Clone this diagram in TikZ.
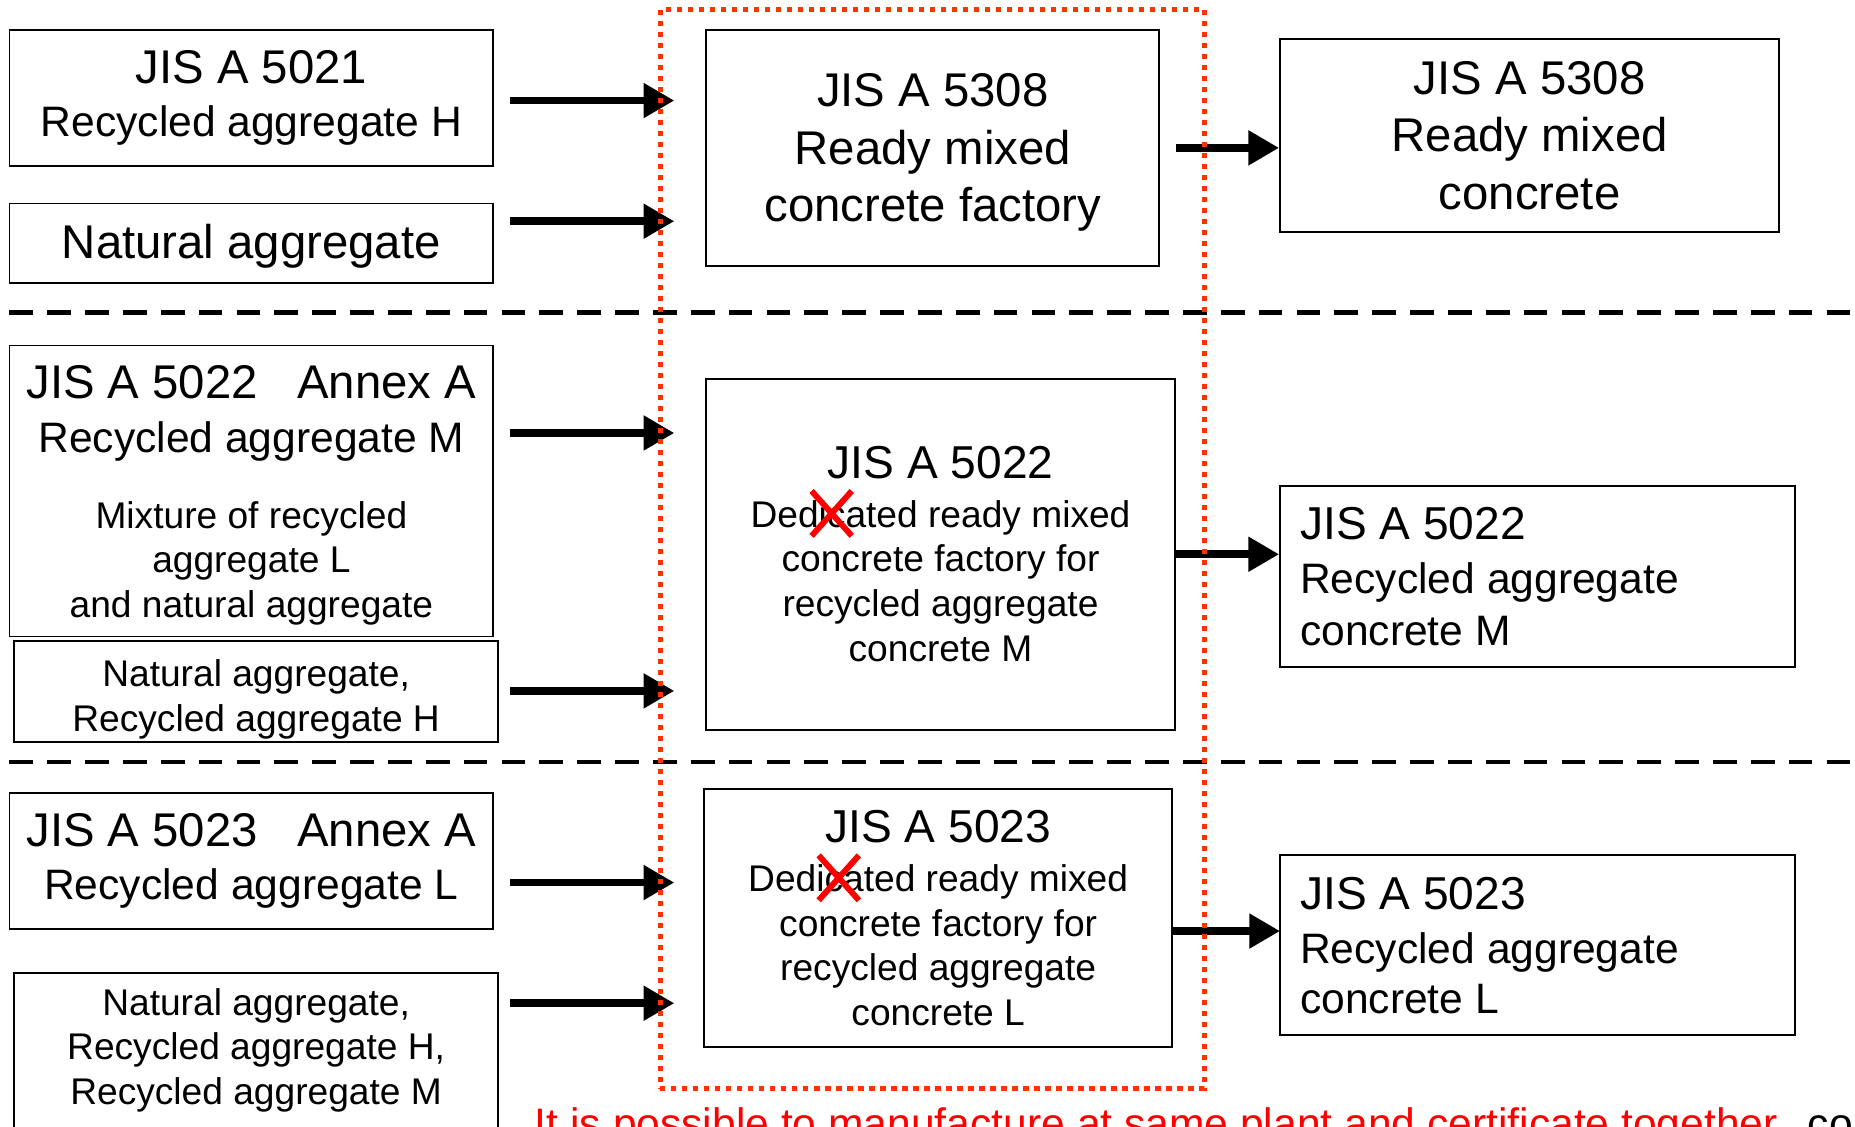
\documentclass[tikz,border=0pt]{standalone}
\usepackage{fontspec}
\setmainfont{Liberation Sans}
\usepackage{xcolor}
\usetikzlibrary{positioning}
\usetikzlibrary{arrows.meta}

\definecolor{plantred}{RGB}{255,51,0}
\newcommand{\fbig}{\fontsize{40}{48}\selectfont}
\newcommand{\fmid}{\fontsize{36}{45}\selectfont}
\newcommand{\fsml}{\fontsize{31.4}{38}\selectfont}

\begin{document}
\begin{tikzpicture}[
  x=1pt, y=-1pt,
  box/.style={draw, line width=1.6pt, inner sep=0pt, align=center},
  boxtext/.style={inner sep=0pt, align=center},
  feed/.style={-{Triangle[length=26pt,width=28pt]}, line width=6.5pt},
  redx/.style={red, line width=5pt},
  split/.style={line width=4pt, dash pattern=on 20pt off 12pt},
  plantframe/.style={draw=plantred, line width=4pt, dash pattern=on 4.5pt off 4.8pt}
]
\useasboundingbox (0,0) rectangle (1568,952);
\fill[white] (0,0) rectangle (1568,952);
\clip (0,0) rectangle (1568,952);

% section borders
\draw[split] (8,264) -- (1580,264);
\draw[split] (8,644) -- (1580,644);

% aggregates
\node[box, font=\fontsize{36}{45}\selectfont, minimum width=409pt, minimum height=115pt] (a5021) at (212.5,82.5) {\fbig JIS A 5021\\\fmid Recycled aggregate H};
\node[box, minimum width=409pt, minimum height=67pt] (nat1) at (212.5,205.5) {};
\node[boxtext, font=\fbig] (nat1txt) at ([yshift=-3pt]nat1.center) {Natural aggregate};
\node[box, minimum width=409pt, minimum height=246pt] (a5022a) at (212.5,415) {};
\node[boxtext, font=\fontsize{31.4}{37.5}\selectfont] (a5022atxt) at ([yshift=-3.5pt]a5022a.center) {\fbig JIS A 5022\ \ \ Annex A\\[8.5pt]\fmid Recycled aggregate M\\[26.5pt]\fsml Mixture of recycled\\\fsml aggregate L\\\fsml and natural aggregate};
\node[box, minimum width=409pt, minimum height=85pt] (nat2) at (216.5,584.5) {};
\node[boxtext, font=\fsml] (nat2txt) at ([yshift=-7pt]nat2.center) {Natural aggregate,\\Recycled aggregate H};
\node[box, font=\fontsize{36}{45}\selectfont, minimum width=409pt, minimum height=115pt] (a5023a) at (212.5,727.5) {\fbig JIS A 5023\ \ \ Annex A\\\fmid Recycled aggregate L};
\node[box, minimum width=409pt, minimum height=160pt, anchor=north] (nat3) at (216.5,822) {};
\node[boxtext, below=13pt of nat3.north, font=\fsml] (nat3txt) {Natural aggregate,\\Recycled aggregate H,\\Recycled aggregate M};

% factories
\node[box, minimum width=383pt, minimum height=200pt] (m5308) at (788.5,125) {};
\node[boxtext, font=\fontsize{40}{48.5}\selectfont] (m5308txt) at ([yshift=-4pt]m5308.center) {JIS A 5308\\Ready mixed\\concrete factory};
\node[box, font=\fontsize{31.4}{38}\selectfont, minimum width=396pt, minimum height=297pt] (m5022) at (795,468.5) {\fontsize{39}{47}\selectfont JIS A 5022\\[3pt]\fsml Dedicated ready mixed\\\fsml concrete factory for\\\fsml recycled aggregate\\\fsml concrete M};
\node[box, font=\fontsize{31.4}{37.7}\selectfont, minimum width=396pt, minimum height=218pt] (m5023) at (793,776) {\fontsize{39}{47}\selectfont JIS A 5023\\[4pt]\fsml Dedicated ready mixed\\\fsml concrete factory for\\\fsml recycled aggregate\\\fsml concrete L};

% products
\node[box, font=\fontsize{40}{48.5}\selectfont, minimum width=422pt, minimum height=163pt] (r5308) at (1293,114.5) {JIS A 5308\\Ready mixed\\concrete};
\node[box, font=\fontsize{36}{44}\selectfont, text width=401pt, inner xsep=17pt, minimum height=153pt, align=flush left] (r5022) at (1299.5,487.5) {\fontsize{39}{47}\selectfont JIS A 5022\\[2pt]\fontsize{36}{44}\selectfont Recycled aggregate\\\fontsize{36}{44}\selectfont concrete M};
\node[box, font=\fontsize{36}{42}\selectfont, text width=401pt, inner xsep=17pt, minimum height=152pt, align=flush left] (r5023) at (1299.5,799) {\fontsize{39}{47}\selectfont JIS A 5023\\[4pt]\fontsize{36}{42}\selectfont Recycled aggregate\\\fontsize{36}{42}\selectfont concrete L};

% arrows into the plant
\coordinate (in1) at (570,85);
\coordinate (in2) at (570,187);
\coordinate (in3) at (570,366);
\coordinate (in4) at (570,584);
\coordinate (in5) at (570,746);
\coordinate (in6) at (570,848);
\draw[feed] ([xshift=13pt]a5021.east |- in1) -- (in1);
\draw[feed] ([xshift=13pt]nat1.east |- in2) -- (in2);
\draw[feed] ([xshift=13pt]a5022a.east |- in3) -- (in3);
\draw[feed] ([xshift=9pt]nat2.east |- in4) -- (in4);
\draw[feed] ([xshift=13pt]a5023a.east |- in5) -- (in5);
\draw[feed] ([xshift=9pt]nat3.east |- in6) -- (in6);

% arrows out of the plant
\coordinate (out3) at (1082,787);
\draw[feed] ([xshift=13pt]m5308.east) -- (m5308.east -| r5308.west);
\draw[feed] (m5022.east) -- (m5022.east -| r5022.west);
\draw[feed] (m5023.east |- out3) -- (out3);

% crossed out letters
\coordinate (x1) at (703,434);
\coordinate (x2) at (709,742);
\draw[redx] ([shift={(-17pt,-19pt)}]x1) -- ([shift={(17pt,19pt)}]x1);
\draw[redx] ([shift={(-17pt,19pt)}]x1) -- ([shift={(17pt,-19pt)}]x1);
\draw[redx] ([shift={(-17pt,-19pt)}]x2) -- ([shift={(17pt,19pt)}]x2);
\draw[redx] ([shift={(-17pt,19pt)}]x2) -- ([shift={(17pt,-19pt)}]x2);

% same plant
\node[plantframe, minimum width=460pt, minimum height=912pt, inner sep=0pt] (plant) at (788,464) {};

\node[anchor=base west, text=red, inner sep=0pt, font=\fontsize{36}{43}\selectfont] (note) at (452,962) {It is possible to manufacture at same plant and certificate together};
\node[anchor=base west, inner sep=0pt, font=\fontsize{36}{43}\selectfont] (cont) at (1528,962) {co};
\end{tikzpicture}
\end{document}
